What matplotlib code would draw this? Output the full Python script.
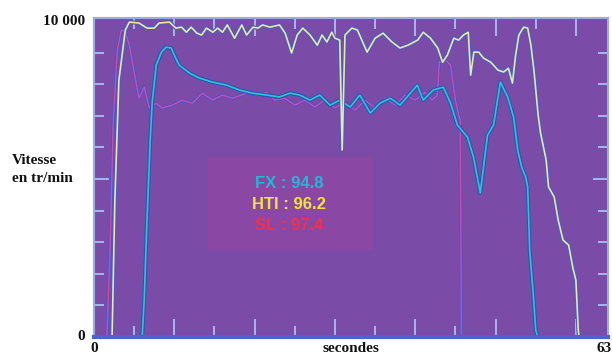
import numpy as np
import matplotlib
matplotlib.use('Agg')
import matplotlib.pyplot as plt
import matplotlib.patheffects as pe
from matplotlib.patches import Rectangle

# rotation speed (tr/min) vs time (s)
hti_t = [0, 2.25, 2.6, 3.1, 3.9, 4.4, 5.6, 6.6, 7.5, 8.1, 9.4, 10.2, 10.9, 11.5, 12.1,
         12.8, 13.4, 14.0, 14.8, 15.4, 16.0, 16.6, 17.5, 18.4, 19.0, 19.8, 20.4, 21.0,
         21.9, 23.1, 23.8, 24.6, 25.3, 26.0, 26.9, 27.8, 28.4, 29.0, 29.6, 30.0, 30.6,
         30.9, 31.25, 32.1, 32.8, 34.0, 35.0, 36.0, 37.1, 38.1, 39.1, 40.3, 41.0, 41.9,
         42.8, 43.4, 44.0, 44.8, 45.4, 46.0, 46.6, 46.9, 47.3, 47.9, 48.5, 49.4, 50.3,
         51.0, 51.6, 52.1, 52.5, 52.9, 53.5, 54.0, 54.4, 54.8, 55.3, 55.6, 56.3, 56.6,
         57.3, 57.8, 58.4, 59.1, 59.6, 60.0, 60.3, 60.4, 64]
hti_v = [0, 0, 4340, 8130, 9720, 9970, 9940, 9780, 9780, 9940, 9970, 9780, 9810, 9650,
         9810, 9620, 9560, 9780, 9650, 9780, 9650, 9880, 9460, 9880, 9560, 9810, 9780,
         9880, 9810, 9880, 9620, 8990, 9560, 9780, 9560, 9240, 9560, 9340, 9650, 9460,
         9400, 5920, 9560, 9780, 9720, 9020, 9460, 9620, 9340, 9150, 9240, 9400, 9650,
         9460, 9150, 8700, 8925, 9460, 9400, 9560, 9650, 8290, 9020, 9020, 8830, 8700,
         8450, 8390, 8510, 8040, 8925, 9560, 9810, 9780, 9240, 8390, 7030, 6460, 5600,
         4750, 4430, 3700, 3070, 2910, 2220, 1800, 220, 0, 0]

fx_t = [0, 6.0, 6.25, 6.6, 7.0, 7.25, 7.75, 8.4, 9.0, 9.6, 10.0, 10.6, 11.9, 13.1, 14.75,
        16.5, 18.1, 19.75, 21.5, 23.1, 24.4, 25.6, 26.9, 28.1, 29.4, 30.6, 31.9, 33.1,
        34.4, 35.6, 36.9, 38.1, 39.4, 40.25, 41.0, 42.25, 43.5, 44.4, 45.25, 46.5, 47.25,
        48.1, 48.5, 49.0, 49.75, 50.6, 51.5, 52.25, 52.75, 53.25, 53.75, 54.0, 54.25,
        54.75, 55.0, 55.25, 64]
fx_v = [0, 0, 1170, 3700, 6235, 7440, 8610, 9020, 9180, 9150, 8925, 8610, 8355, 8200,
        8070, 7975, 7820, 7720, 7660, 7600, 7720, 7660, 7500, 7660, 7340, 7500, 7280,
        7660, 7090, 7400, 7560, 7340, 7720, 7975, 7500, 7820, 7910, 7400, 6710, 6330,
        5700, 4560, 5380, 6390, 6710, 8070, 7600, 6960, 5920, 5380, 5060, 4750, 2750,
        1170, 220, 0, 0]

sl_t = [0, 1.6, 2.0, 2.4, 2.9, 3.4, 3.9, 4.4, 5.0, 5.6, 6.25, 6.9, 7.75, 8.5, 9.75, 11.0,
        12.25, 13.5, 14.75, 16.0, 17.25, 19.0, 20.25, 21.5, 22.5, 23.75, 25.0, 26.25, 27.5,
        28.75, 30.0, 31.25, 32.5, 33.75, 35.0, 36.25, 37.5, 38.75, 40.0, 41.25, 42.1,
        42.75, 43.0, 43.75, 44.4, 45.0, 45.4, 45.6, 45.75, 64]
sl_v = [0, 0, 2750, 6870, 9080, 9720, 9650, 9240, 8390, 7560, 7910, 7250, 7400, 7250,
        7340, 7500, 7400, 7720, 7500, 7660, 7560, 7720, 7660, 7750, 7500, 7560, 7340,
        7500, 7280, 7500, 7250, 7440, 7180, 7500, 7250, 7560, 7340, 7660, 7500, 7750,
        7500, 7660, 8700, 8770, 8610, 7500, 7030, 6870, 0, 0]

scores = ['FX : 94.8', 'HTI : 96.2', 'SL : 97.4']
score_colors = ['#2ab4d2', '#f4e23c', '#f0304e']

x_labels = ['0', '63']
x_label_pos = [0, 63.5]
y_labels = ['0', '10 000']
y_label_pos = [0, 10000]

bg = '#7a4ca8'

fig = plt.figure(figsize=(6.12, 3.56), dpi=100)
fig.patch.set_facecolor('white')
ax = fig.add_axes([94 / 612, 19 / 356, 514 / 612, 319 / 356])
ax.set_facecolor(bg)
ax.set_xlim(0, 64)
ax.set_ylim(0, 10100)

# score panel
ax.add_patch(Rectangle((0.222, 0.273), 0.321, 0.291, transform=ax.transAxes,
                       facecolor='#8a47a3', edgecolor='none', zorder=1))
for i, (s, c) in enumerate(zip(scores, score_colors)):
    ax.text(0.38, 0.482 - i * 0.066, s, transform=ax.transAxes, color=c,
            fontsize=12, fontweight='bold', family='Liberation Sans',
            ha='center', va='center', zorder=2)

ax.plot(sl_t, sl_v, color='#c54fb8', lw=1.0, zorder=3,
        path_effects=[pe.Stroke(linewidth=2.2, foreground='#5050c4'), pe.Normal()])
ax.plot(fx_t, fx_v, color='#2cc6d2', lw=1.2, zorder=4,
        path_effects=[pe.Stroke(linewidth=2.8, foreground='#2c52b6'), pe.Normal()])
ax.plot(hti_t, hti_v, color='#ece6a8', lw=1.2, zorder=5,
        path_effects=[pe.Stroke(linewidth=2.8, foreground='#4a5cc0'), pe.Normal()])

for sp in ax.spines.values():
    sp.set_color('#96aee2')
    sp.set_linewidth(1.5)
    sp.set_zorder(10)
ax.spines['bottom'].set_color('#4a66c4')
ax.spines['bottom'].set_linewidth(3)

ax.set_xticks(np.arange(10, 61, 10))
ax.set_xticks(np.arange(5, 60, 10), minor=True)
ax.set_yticks([5000])
ax.set_yticks([1000, 2000, 3000, 4000, 6000, 7000, 8000, 9000], minor=True)
ax.tick_params(which='both', direction='in', top=True, right=True,
               labelbottom=False, labelleft=False, color='#aabff0', width=1.3)
ax.tick_params(axis='x', which='major', length=13)
ax.tick_params(axis='x', which='minor', length=8)
ax.tick_params(axis='y', which='major', length=11)
ax.tick_params(axis='y', which='minor', length=7)

serif = dict(family='Liberation Serif', fontweight='bold', fontsize=11, color='#111111')
for p, l in zip(x_label_pos, x_labels):
    ax.text(p, -0.035, l, transform=ax.get_xaxis_transform(), ha='center', va='center', **serif)
ax.text(0.5, -0.035, 'secondes', transform=ax.transAxes, ha='center', va='center', **serif)
for p, l in zip(y_label_pos, y_labels):
    ax.text(-0.018, p, l, transform=ax.get_yaxis_transform(), ha='right', va='center', **serif)
fig.text(12 / 612, 1 - 160 / 356, 'Vitesse', ha='left', va='center', **serif)
fig.text(12 / 612, 1 - 178 / 356, 'en tr/min', ha='left', va='center', **serif)

fig.savefig('out.png', dpi=100)
